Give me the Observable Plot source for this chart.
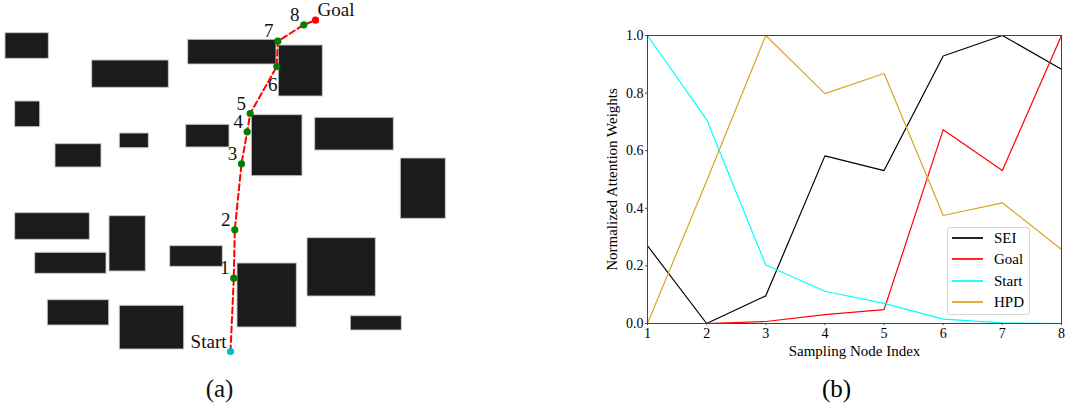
<!DOCTYPE html>
<html><head><meta charset="utf-8">
<script src="https://cdn.jsdelivr.net/npm/d3@7"></script>
<script src="https://cdn.jsdelivr.net/npm/@observablehq/plot@0.6"></script>
<style>
body{margin:0;background:#fff;}
#wrap{position:relative;width:1070px;height:407px;overflow:hidden;font-family:"Liberation Serif","DejaVu Serif",serif;}
#a{position:absolute;left:0;top:0;}
#b{position:absolute;left:560px;top:0;}
#legend{position:absolute;left:947px;top:227px;width:83px;height:88px;box-sizing:border-box;border:1px solid #d6d6d6;border-radius:3px;background:rgba(255,255,255,0.85);font-size:15px;}
.sw{position:absolute;left:4px;width:31px;height:2px;opacity:0.85;}
.lb{position:absolute;left:46px;line-height:16px;color:#000;}
</style>
</head><body>
<div id="wrap"><div id="a"></div><div id="b"></div><div id="legend"></div></div>
<script>
// ---------- Panel (a): map ----------
// obstacles: [x1, y1, x2, y2] in map units (y downward)
const obsX1 = [5, 91.7, 187.7, 278.3, 14.7, 119.3, 55, 185.7, 251.3, 314.7, 400.3, 14.7, 109, 34.7, 169.7, 237, 307, 47.3, 119.3, 350.3];
const obsY1 = [32.7, 60, 39.3, 45, 101, 133, 143.7, 124.3, 114.7, 117.3, 158, 212.7, 215.7, 252.3, 245.7, 263, 237.7, 299.7, 305.3, 315.7];
const obsX2 = [48.3, 168.3, 276, 322.3, 39.7, 148.3, 101, 229, 302, 393.3, 445.3, 89.3, 145.3, 106, 222.3, 296.3, 375.3, 108.7, 183.7, 401.3];
const obsY2 = [58.3, 87.3, 64, 96, 126.7, 147.7, 167, 147, 175.7, 150, 218.3, 239.3, 271, 273.3, 266.3, 327, 296, 325, 349, 330];

const nodeNames = ["Start", "1", "2", "3", "4", "5", "6", "7", "8", "Goal"];
const nodeX = [230, 233.3, 234.3, 241, 246.7, 249.7, 276.3, 277.3, 303.3, 315];
const nodeY = [351, 277.7, 229.3, 163.3, 131.3, 113, 66, 40.7, 24.3, 19.7];
const captionA = ["(a)"];
const captionAX = [219];
const captionAY = [388];

const obstacles = obsX1.map((x1, i) => ({x1, y1: obsY1[i], x2: obsX2[i], y2: obsY2[i]}));
const nodes = nodeNames.map((name, i) => ({name, x: nodeX[i], y: nodeY[i], i}));
const midNodes = nodes.filter(d => d.name !== "Start" && d.name !== "Goal");

const serif = "'Liberation Serif','DejaVu Serif',serif";

const plotA = Plot.plot({
  width: 460, height: 407,
  margin: 0,
  style: {fontFamily: serif, background: "transparent", overflow: "visible"},
  x: {domain: [0, 460], axis: null},
  y: {domain: [0, 407], reverse: true, axis: null},
  marks: [
    Plot.rect(obstacles, {x1: "x1", y1: "y1", x2: "x2", y2: "y2", fill: "#1b1b1b", stroke: "#c8c8c8", strokeWidth: 0.9}),
    Plot.line(nodes, {x: "x", y: "y", stroke: "#ff0000", strokeWidth: 2, strokeDasharray: "6,3.5"}),
    Plot.dot(midNodes, {x: "x", y: "y", r: 3.6, fill: "#008000"}),
    Plot.dot(nodes.filter(d => d.name === "Start"), {x: "x", y: "y", r: 3.6, fill: "#00bfc4"}),
    Plot.dot(nodes.filter(d => d.name === "Goal"), {x: "x", y: "y", r: 3.6, fill: "#ff0000"}),
    Plot.text(midNodes.filter(d => d.name !== "6"), {x: "x", y: "y", text: "name", dx: -9, dy: -10, fontSize: 19, fill: "#111"}),
    Plot.text(midNodes.filter(d => d.name === "6"), {x: "x", y: "y", text: "name", dx: -4, dy: 18, fontSize: 19, fill: "#111"}),
    Plot.text(nodes.filter(d => d.name === "Goal"), {x: "x", y: "y", text: "name", dx: 2, dy: -10, textAnchor: "start", fontSize: 19, fill: "#111"}),
    Plot.text(nodes.filter(d => d.name === "Start"), {x: "x", y: "y", text: "name", dx: -4, dy: -10, textAnchor: "end", fontSize: 19, fill: "#111"}),
    Plot.text(captionA, {x: () => captionAX[0], y: () => captionAY[0], text: d => d, fontSize: 25, fill: "#111"})
  ]
});
document.getElementById("a").append(plotA);

// ---------- Panel (b): attention weights ----------
const nodeIndex = [1, 2, 3, 4, 5, 6, 7, 8];
const seriesNames = ["SEI", "Goal", "Start", "HPD"];
const seriesColors = ["#000000", "#ff0000", "#00ffff", "#daa520"];
const sei   = [0.27, 0.0, 0.096, 0.582, 0.531, 0.929, 1.0, 0.883];
const goal  = [0.0, 0.0, 0.007, 0.031, 0.048, 0.673, 0.531, 1.0];
const start = [1.0, 0.708, 0.203, 0.112, 0.07, 0.015, 0.002, 0.0];
const hpd   = [0.0, 0.495, 1.0, 0.798, 0.868, 0.375, 0.419, 0.257];
const yTicks = [0, 0.2, 0.4, 0.6, 0.8, 1.0];
const xTitle = ["Sampling Node Index"];
const yTitle = ["Normalized Attention Weights"];
const captionB = ["(b)"];

const seriesValues = [sei, goal, start, hpd];
const rows = [];
seriesNames.forEach((s, k) => nodeIndex.forEach((n, i) => rows.push({series: s, node: n, value: seriesValues[k][i]})));

const plotB = Plot.plot({
  width: 510, height: 407,
  marginLeft: 87, marginRight: 9, marginTop: 35, marginBottom: 84,
  style: {fontFamily: serif, fontSize: "14px", color: "#000", background: "transparent", overflow: "visible"},
  x: {domain: [1, 8], label: null},
  y: {domain: [0, 1], label: null},
  color: {domain: seriesNames, range: seriesColors},
  marks: [
    Plot.axisX({ticks: nodeIndex, tickFormat: "d", tickSize: 2, tickPadding: 3, label: null, fontSize: 14, stroke: "#444"}),
    Plot.axisY({ticks: yTicks, tickFormat: ".1f", tickSize: 2, tickPadding: 2, label: null, fontSize: 14, stroke: "#444"}),
    Plot.line(rows, {x: "node", y: "value", z: "series", stroke: "series", strokeWidth: 1.2}),
    Plot.frame({stroke: "#444", strokeWidth: 1}),
    Plot.text(xTitle, {frameAnchor: "bottom", lineAnchor: "middle", dy: 28, text: d => d, fontSize: 15}),
    Plot.text(yTitle, {frameAnchor: "left", textAnchor: "middle", lineAnchor: "middle", dx: -35, rotate: -90, text: d => d, fontSize: 15}),
    Plot.text(captionB, {frameAnchor: "bottom", lineAnchor: "middle", dx: -18, dy: 65, text: d => d, fontSize: 25})
  ]
});
document.getElementById("b").append(plotB);

// legend
const leg = document.getElementById("legend");
seriesNames.forEach((s, k) => {
  const cy = 10 + k * 21.3;
  const sw = document.createElement("div");
  sw.className = "sw";
  sw.style.top = (cy - 1) + "px";
  sw.style.background = seriesColors[k];
  leg.append(sw);
  const lb = document.createElement("div");
  lb.className = "lb";
  lb.style.top = (cy - 8) + "px";
  lb.textContent = s;
  leg.append(lb);
});
</script>
</body></html>
